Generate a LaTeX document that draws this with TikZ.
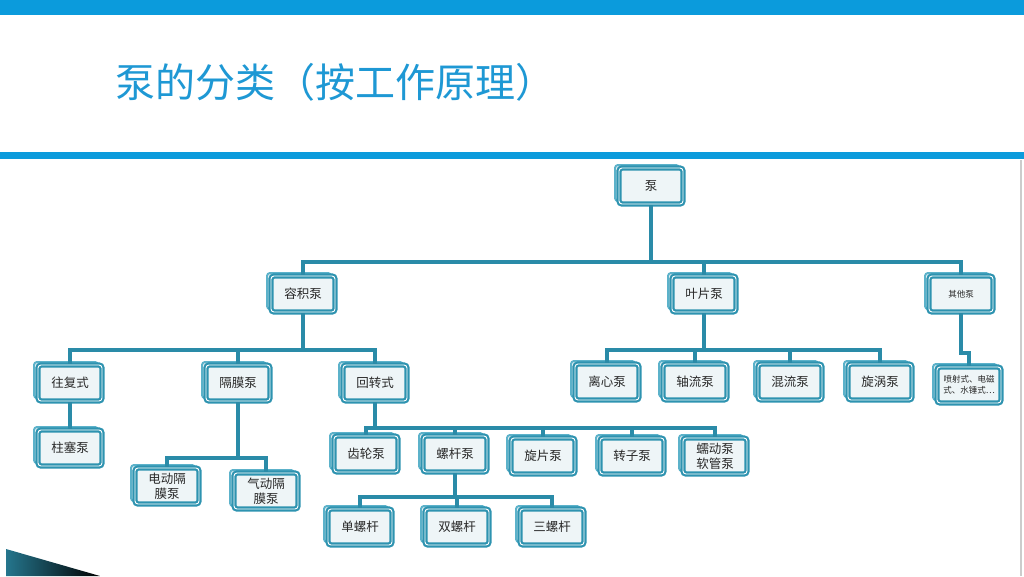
\documentclass[tikz,border=0pt]{standalone}
\usepackage{fontspec}
\usepackage{tikz}
\usetikzlibrary{shadows}
\newfontfamily\cjk{Noto Sans CJK SC}
\definecolor{barcolor}{RGB}{11, 155, 220}
\definecolor{titlecolor}{RGB}{30, 152, 212}
\definecolor{boxcolor}{RGB}{46, 147, 176}
\definecolor{shadecolor}{RGB}{92, 178, 202}
\definecolor{linkcolor}{RGB}{42, 139, 168}
\definecolor{boxfill}{RGB}{238, 245, 247}
\definecolor{textcolor}{RGB}{40, 40, 40}
\tikzset{
  pumpbox/.style={draw=boxcolor, line width=2.2pt, double=white, double distance=0.9pt,
    fill=boxfill, rounded corners=3pt, minimum width=64pt, minimum height=36pt,
    align=center, text=textcolor, font=\cjk\fontsize{12.5}{15}\selectfont,
    copy shadow={shadow xshift=-4pt, shadow yshift=3pt, draw=shadecolor, fill=boxfill!60, line width=2pt}},
  link/.style={draw=linkcolor, line width=3.8pt}
}
% parent, bus coordinate, children
\newcommand{\branch}[3]{\foreach \c in {#3} \draw[link] (#1.south) |- (\c.north |- #2) -- (\c.north);}
\begin{document}
\begin{tikzpicture}[x=1pt, y=-1pt]
        \useasboundingbox (0,0) rectangle (1024,576);
        % 页面装饰
        \fill[barcolor] (0,0) rectangle (1024,15);
        \fill[barcolor] (0,152) rectangle (1024,159);
        \draw[gray!40, line width=1.2pt] (1021,160) -- (1021,576);
        \shade[left color=boxcolor!80!black, right color=black] (6,549) -- (100,576) -- (6,576) -- cycle;
        \node[anchor=west, text=titlecolor, font=\cjk\fontsize{40}{44}\selectfont] (title) at (112,82) {泵的分类（按工作原理）};
        % 第一层
        \node[pumpbox] (beng) at (651,186) {泵};
        \node[pumpbox] (rongji) at (303,294) {容积泵};
        \node[pumpbox] (yepian) at (704,294) {叶片泵};
        \node[pumpbox, font=\cjk\fontsize{8.5}{10}\selectfont] (qita) at (961,294) {其他泵};
        % 第二层
        \node[pumpbox] (wangfu) at (70,383) {往复式};
        \node[pumpbox] (gemo) at (238,383) {隔膜泵};
        \node[pumpbox] (huizhuan) at (375,383) {回转式};
        \node[pumpbox] (lixin) at (607,382) {离心泵};
        \node[pumpbox] (zhouliu) at (695,382) {轴流泵};
        \node[pumpbox] (hunliu) at (790,382) {混流泵};
        \node[pumpbox] (xuanwo) at (880,382) {旋涡泵};
        \node[pumpbox, font=\cjk\fontsize{8.5}{11}\selectfont] (penshe) at (969,385) {喷射式、电磁\\式、水锤式…};
        % 第三层
        \node[pumpbox] (zhusai) at (70,448) {柱塞泵};
        \node[pumpbox] (diandong) at (167,486) {电动隔\\膜泵};
        \node[pumpbox] (qidong) at (266,491) {气动隔\\膜泵};
        \node[pumpbox] (chilun) at (366,454) {齿轮泵};
        \node[pumpbox] (luogan) at (455,454) {螺杆泵};
        \node[pumpbox] (xuanpian) at (543,456) {旋片泵};
        \node[pumpbox] (zhuanzi) at (632,456) {转子泵};
        \node[pumpbox] (rudong) at (715,456) {蠕动泵\\软管泵};
        % 第四层
        \node[pumpbox] (danluo) at (360,527) {单螺杆};
        \node[pumpbox] (shuangluo) at (457,527) {双螺杆};
        \node[pumpbox] (sanluo) at (552,527) {三螺杆};
        % 连线
        \coordinate (bus0) at (0,262);
        \coordinate (bus1) at (0,350);
        \coordinate (bus2) at (0,458);
        \coordinate (bus3) at (0,428);
        \coordinate (bus4) at (0,497);
        \coordinate (bus5) at (0,353);
        \branch{beng}{bus0}{rongji,yepian,qita}
        \branch{rongji}{bus1}{wangfu,gemo,huizhuan}
        \branch{yepian}{bus1}{lixin,zhouliu,hunliu,xuanwo}
        \branch{qita}{bus5}{penshe}
        \draw[link] (wangfu.south) -- (zhusai.north);
        \branch{gemo}{bus2}{diandong,qidong}
        \branch{huizhuan}{bus3}{chilun,luogan,xuanpian,zhuanzi,rudong}
        \branch{luogan}{bus4}{danluo,shuangluo,sanluo}
    \end{tikzpicture}
\end{document}
